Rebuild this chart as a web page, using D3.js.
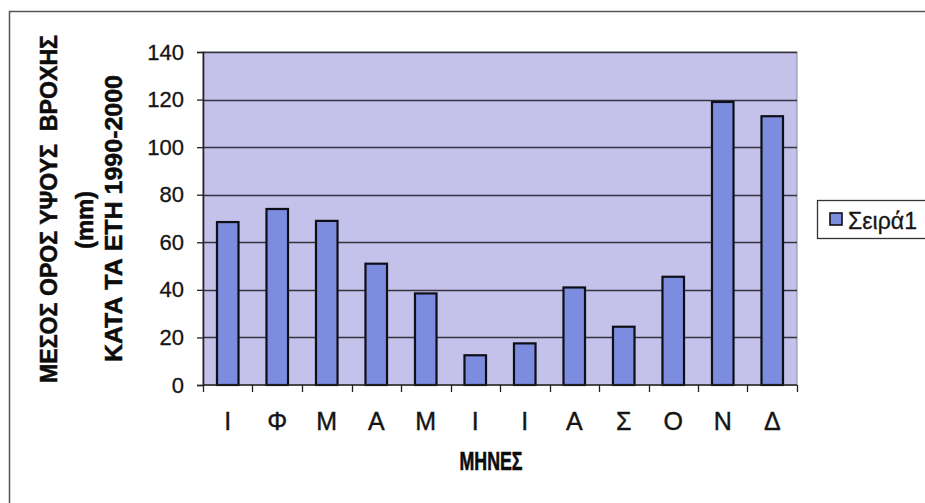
<!DOCTYPE html>
<html>
<head>
<meta charset="utf-8">
<script src="https://cdn.jsdelivr.net/npm/d3@7"></script>
<style>
  html, body { margin: 0; padding: 0; background: #ffffff; }
  svg { display: block; font-family: "Liberation Sans", Arial, sans-serif; }
</style>
</head>
<body>
<svg id="chart" width="925" height="503"></svg>
<script>
// Monthly mean rainfall (mm), 1990-2000
const months = ["Ι", "Φ", "Μ", "Α", "Μ", "Ι", "Ι", "Α", "Σ", "Ο", "Ν", "Δ"];
const rainfall = [68.5, 74, 69, 51, 38.5, 12.5, 17.5, 41, 24.5, 45.5, 119, 113];
const yTicks = [0, 20, 40, 60, 80, 100, 120, 140];
const seriesName = "Σειρά1";
const xTitle = "ΜΗΝΕΣ";
const yTitleLines = ["ΜΕΣΟΣ ΟΡΟΣ ΥΨΟΥΣ  ΒΡΟΧΗΣ", "(mm)", "ΚΑΤΑ ΤΑ ΕΤΗ 1990-2000"];

const svg = d3.select("#chart");
const plot = { left: 203, right: 797, top: 52, bottom: 385 };

const x = d3.scaleBand()
  .domain(d3.range(months.length))
  .range([plot.left, plot.right])
  .paddingInner(0.565)
  .paddingOuter(0.2825);

const xEdges = d3.scaleLinear()
  .domain([0, months.length])
  .range([plot.left, plot.right]);

const y = d3.scaleLinear()
  .domain([0, 140])
  .range([plot.bottom, plot.top]);

const barFill = "#7c8de0";
const inkColor = "#141414";

// Outer chart frame (runs off the right and bottom edges)
svg.append("rect")
  .attr("x", 9.5).attr("y", 11.5)
  .attr("width", 940).attr("height", 520)
  .attr("fill", "none")
  .attr("stroke", "#555")
  .attr("stroke-width", 1.5);

// Plot area background
svg.append("rect")
  .attr("x", plot.left).attr("y", plot.top)
  .attr("width", plot.right - plot.left)
  .attr("height", plot.bottom - plot.top)
  .attr("fill", "#c4c1ea")
  .attr("stroke", "#8a8a9a")
  .attr("stroke-width", 1);

// Horizontal gridlines
svg.append("g")
  .selectAll("line")
  .data(yTicks.filter(d => d > 0))
  .join("line")
  .attr("x1", plot.left).attr("x2", plot.right)
  .attr("y1", d => Math.round(y(d)) + 0.5)
  .attr("y2", d => Math.round(y(d)) + 0.5)
  .attr("stroke", "#34343f")
  .attr("stroke-width", 1.4);

// Bars
svg.append("g")
  .selectAll("rect")
  .data(rainfall)
  .join("rect")
  .attr("x", (d, i) => x(i))
  .attr("y", d => y(d))
  .attr("width", x.bandwidth())
  .attr("height", d => y(0) - y(d))
  .attr("fill", barFill)
  .attr("stroke", "#0e0e16")
  .attr("stroke-width", 2.2);

// Y axis
const yAxis = svg.append("g")
  .attr("transform", `translate(${plot.left},0)`)
  .call(d3.axisLeft(y).tickValues(yTicks).tickSize(6).tickPadding(13));
yAxis.select(".domain").attr("stroke", "#222").attr("stroke-width", 1.6);
yAxis.selectAll(".tick line").attr("stroke", "#222").attr("stroke-width", 1.3);
yAxis.selectAll(".tick text")
  .attr("font-size", 22)
  .attr("fill", inkColor)
  .attr("stroke", inkColor)
  .attr("stroke-width", 0.3)
  .attr("font-family", "'Liberation Sans', Arial, sans-serif");

// X axis line with ticks on category boundaries
svg.append("line")
  .attr("x1", plot.left).attr("x2", plot.right)
  .attr("y1", plot.bottom).attr("y2", plot.bottom)
  .attr("stroke", "#222").attr("stroke-width", 1.6);
svg.append("g")
  .selectAll("line")
  .data(d3.range(months.length + 1))
  .join("line")
  .attr("x1", d => Math.round(xEdges(d)) + 0.5)
  .attr("x2", d => Math.round(xEdges(d)) + 0.5)
  .attr("y1", plot.bottom).attr("y2", plot.bottom + 7)
  .attr("stroke", "#222").attr("stroke-width", 1.3);

// Month labels
svg.append("g")
  .selectAll("text")
  .data(months)
  .join("text")
  .attr("x", (d, i) => x(i) + x.bandwidth() / 2)
  .attr("y", 430)
  .attr("text-anchor", "middle")
  .attr("font-size", 25)
  .attr("fill", inkColor)
  .attr("stroke", inkColor)
  .attr("stroke-width", 0.4)
  .text(d => d);

// X axis title
svg.append("text")
  .attr("x", 491).attr("y", 470)
  .attr("text-anchor", "middle")
  .attr("font-size", 25)
  .attr("font-weight", "bold")
  .attr("textLength", 63)
  .attr("lengthAdjust", "spacingAndGlyphs")
  .attr("fill", "#0c0c0c")
  .attr("stroke", "#0c0c0c")
  .attr("stroke-width", 0.6)
  .text(xTitle);

// Y axis title, three rotated lines
const yTitlePos = [
  { cx: 48.5, cy: 209, len: 348 },
  { cx: 85, cy: 220, len: 58 },
  { cx: 114, cy: 218.5, len: 287 }
];
svg.append("g")
  .selectAll("text")
  .data(yTitleLines)
  .join("text")
  .attr("transform", (d, i) => `translate(${yTitlePos[i].cx},${yTitlePos[i].cy}) rotate(-90)`)
  .attr("dy", "0.36em")
  .attr("text-anchor", "middle")
  .attr("font-size", 23)
  .attr("font-weight", "bold")
  .attr("textLength", (d, i) => yTitlePos[i].len)
  .attr("lengthAdjust", "spacingAndGlyphs")
  .attr("fill", "#0c0c0c")
  .attr("stroke", "#0c0c0c")
  .attr("stroke-width", 0.5)
  .style("white-space", "pre")
  .text(d => d);

// Legend
const legend = svg.append("g").attr("transform", "translate(817,200)");
legend.append("rect")
  .attr("x", 0.5).attr("y", 0.5)
  .attr("width", 120).attr("height", 38)
  .attr("fill", "#ffffff")
  .attr("stroke", "#333")
  .attr("stroke-width", 1.3);
legend.append("rect")
  .attr("x", 13).attr("y", 13)
  .attr("width", 12).attr("height", 12)
  .attr("fill", barFill)
  .attr("stroke", "#0e0e16")
  .attr("stroke-width", 1.6);
legend.append("text")
  .attr("x", 31).attr("y", 28.5)
  .attr("font-size", 23)
  .attr("fill", inkColor)
  .attr("stroke", inkColor)
  .attr("stroke-width", 0.3)
  .attr("textLength", 69)
  .attr("lengthAdjust", "spacingAndGlyphs")
  .text(seriesName);
</script>
</body>
</html>
